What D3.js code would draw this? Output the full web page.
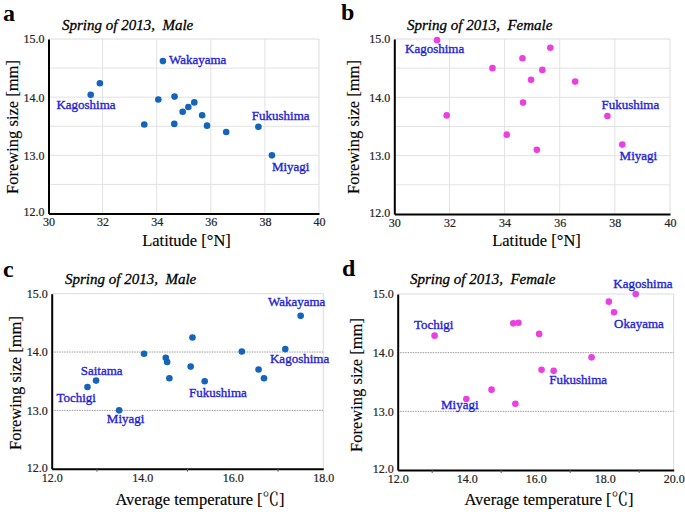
<!DOCTYPE html>
<html>
<head>
<meta charset="utf-8">
<script src="https://cdn.jsdelivr.net/npm/d3@7"></script>
<style>
  html, body { margin: 0; padding: 0; background: #fff; }
  svg { display: block; }
  svg text { font-family: "Liberation Serif", "Times New Roman", serif; }
  svg text tspan.cjk { font-family: "Noto Serif CJK JP", "Noto Sans CJK JP", serif; }
</style>
</head>
<body>
<svg id="chart" width="685" height="512"></svg>
<script>
// ---------------- DATA ----------------
// Panel a: Male, latitude vs forewing size
const aLatitude = [31.56, 31.90, 34.23, 33.54, 34.06, 34.66, 34.65, 34.96, 35.17, 35.39, 35.68, 35.86, 36.57, 37.76, 38.26];
const aSize     = [14.04, 14.24, 14.62, 13.53, 13.96, 14.01, 13.54, 13.75, 13.83, 13.91, 13.69, 13.51, 13.40, 13.49, 13.00];
const aSite     = ["Kagoshima", "", "Wakayama", "", "", "", "", "", "", "", "", "", "", "Fukushima", "Miyagi"];

// Panel b: Female, latitude vs forewing size
const bLatitude = [31.55, 31.90, 33.56, 34.65, 34.67, 34.08, 34.96, 35.37, 35.66, 35.17, 36.56, 37.73, 38.27];
const bSize     = [14.98, 13.69, 14.50, 14.67, 13.91, 13.36, 14.30, 14.47, 14.85, 13.10, 14.27, 13.68, 13.19];
const bSite     = ["Kagoshima", "", "", "", "", "", "", "", "", "", "", "Fukushima", "Miyagi"];

// Panel c: Male, average temperature vs forewing size
const cTemp = [12.79, 12.98, 13.49, 14.04, 14.52, 14.55, 14.60, 15.07, 15.11, 15.38, 16.20, 16.57, 16.69, 17.16, 17.50];
const cSize = [13.40, 13.51, 13.00, 13.97, 13.90, 13.83, 13.55, 13.75, 14.25, 13.50, 14.01, 13.70, 13.55, 14.05, 14.62];
const cSite = ["Tochigi", "Saitama", "Miyagi", "", "", "", "", "", "", "Fukushima", "", "", "", "Kagoshima", "Wakayama"];

// Panel d: Female, average temperature vs forewing size
const dTemp = [13.07, 13.99, 14.72, 15.41, 15.35, 15.50, 16.10, 16.17, 16.52, 17.62, 18.12, 18.27, 18.90];
const dSize = [14.29, 13.21, 13.37, 13.13, 14.50, 14.51, 14.32, 13.71, 13.69, 13.92, 14.87, 14.69, 15.00];
const dSite = ["Tochigi", "Miyagi", "", "", "", "", "", "", "Fukushima", "", "", "Okayama", "Kagoshima"];

const yTickLabels = ["12.0", "13.0", "14.0", "15.0"];
const latTickLabels = ["30", "32", "34", "36", "38", "40"];
const tempTickLabelsC = ["12.0", "14.0", "16.0", "18.0"];
const tempTickLabelsD = ["12.0", "14.0", "16.0", "18.0", "20.0"];

const panelLetters = ["a", "b", "c", "d"];
const panelTitles = ["Spring of 2013,\u00A0\u00A0Male", "Spring of 2013,\u00A0\u00A0Female",
                     "Spring of 2013,\u00A0\u00A0Male", "Spring of 2013,\u00A0\u00A0Female"];
const yAxisTitle = "Forewing size [mm]";
const latAxisTitle = ["Latitude [\u00B0N]", "", ""];
const tempAxisTitle = ["Average temperature [", "\u2103", "]"];

// ---------------- LAYOUT (label offsets, styles) ----------------
const labelOffsets = {
  a: { Kagoshima: [-4.7, 14, "middle"], Wakayama: [6, 3, "start"], Fukushima: [-6.6, -6.7, "start"], Miyagi: [0, 15.4, "start"] },
  b: { Kagoshima: [-32, 12.7, "start"], Fukushima: [-6, -7, "start"], Miyagi: [-2.7, 15.3, "start"] },
  c: { Wakayama: [-32.7, -9.7, "start"], Kagoshima: [-15.3, 13.7, "start"], Saitama: [-15.3, -5.3, "start"],
       Tochigi: [-31, 15, "start"], Miyagi: [-12.3, 12.7, "start"], Fukushima: [-15.7, 15.7, "start"] },
  d: { Kagoshima: [-22.4, -6.3, "start"], Okayama: [0, 15.4, "start"], Tochigi: [-20.7, -6.4, "start"],
       Fukushima: [-4.4, 13.3, "start"], Miyagi: [-25.3, 10.3, "start"] }
};

const MALE = "#1464b9";
const FEMALE = "#ec3fe0";
const LABEL = "#2323d6";

const svg = d3.select("#chart");

function drawPanel(p) {
  const g = svg.append("g");
  const x = d3.scaleLinear().domain(p.xDomain).range([p.x0, p.x1]);
  const y = d3.scaleLinear().domain([12, 15]).range([p.y0, p.y1]);

  // frame (light top/right)
  g.append("line").attr("x1", p.x0).attr("x2", p.x1).attr("y1", p.y1).attr("y2", p.y1)
    .attr("stroke", "#dcdcdc").attr("stroke-width", 1);
  g.append("line").attr("x1", p.x1).attr("x2", p.x1).attr("y1", p.y1).attr("y2", p.y0)
    .attr("stroke", "#dcdcdc").attr("stroke-width", 1);

  if (p.grid === "full") {
    const yg = [12.5, 13, 13.5, 14, 14.5];
    g.selectAll(".hg").data(yg).enter().append("line")
      .attr("x1", p.x0).attr("x2", p.x1).attr("y1", d => y(d)).attr("y2", d => y(d))
      .attr("stroke", "#e2e2e2").attr("stroke-width", 1);
    const xg = p.xTicks.slice(1, -1);
    g.selectAll(".vg").data(xg).enter().append("line")
      .attr("x1", d => x(d)).attr("x2", d => x(d)).attr("y1", p.y1).attr("y2", p.y0)
      .attr("stroke", "#e2e2e2").attr("stroke-width", 1);
  } else {
    const yg = [13, 14];
    g.selectAll(".hg").data(yg).enter().append("line")
      .attr("x1", p.x0).attr("x2", p.x1).attr("y1", d => y(d)).attr("y2", d => y(d))
      .attr("stroke", "#9a9a9a").attr("stroke-width", 1).attr("stroke-dasharray", "1.5,1");
  }

  // axes
  const yAxis = d3.axisLeft(y).tickValues([12, 13, 14, 15])
    .tickFormat((d, i) => yTickLabels[i]).tickSize(0).tickPadding(4);
  const ya = g.append("g").attr("transform", `translate(${p.x0},0)`).call(yAxis);
  ya.select(".domain").attr("stroke", "#000").attr("stroke-width", 2);
  ya.selectAll("text").attr("font-size", 12).attr("fill", "#222")
    .attr("stroke", "#222").attr("stroke-width", 0.2)
    .attr("dy", (d) => d === 12 ? "0.2em" : "0.32em");

  const xAxis = d3.axisBottom(x).tickValues(p.xTicks)
    .tickFormat((d, i) => p.xTickLabels[i]).tickSize(0).tickPadding(p.xPad);
  const xa = g.append("g").attr("transform", `translate(0,${p.y0})`).call(xAxis);
  xa.select(".domain").attr("stroke", "#000").attr("stroke-width", 2);
  xa.selectAll("text").attr("font-size", 12).attr("fill", "#222")
    .attr("stroke", "#222").attr("stroke-width", 0.2);

  if (p.minor) {
    g.selectAll(".mt").data(p.minor).enter().append("line")
      .attr("x1", d => x(d)).attr("x2", d => x(d)).attr("y1", p.y0).attr("y2", p.y0 + 3)
      .attr("stroke", "#555").attr("stroke-width", 1);
  }

  // points
  const pts = p.xs.map((v, i) => ({ x: v, y: p.ys[i], site: p.sites[i] }));
  g.selectAll(".pt").data(pts).enter().append("circle")
    .attr("cx", d => x(d.x)).attr("cy", d => y(d.y)).attr("r", 3.3)
    .attr("fill", p.color);

  // site labels
  g.selectAll(".lab").data(pts.filter(d => d.site)).enter().append("text")
    .attr("x", d => x(d.x) + labelOffsets[p.key][d.site][0])
    .attr("y", d => y(d.y) + labelOffsets[p.key][d.site][1])
    .attr("text-anchor", d => labelOffsets[p.key][d.site][2])
    .attr("font-size", 13).attr("fill", LABEL)
    .attr("stroke", LABEL).attr("stroke-width", 0.35)
    .text(d => d.site);

  // letter
  g.append("text").attr("x", p.letterX).attr("y", p.letterY)
    .attr("font-size", 24).attr("font-weight", "bold").attr("fill", "#000")
    .text(p.letter);
  // title
  g.append("text").attr("x", p.titleX).attr("y", p.titleY)
    .attr("font-size", 15).attr("font-style", "italic").attr("fill", "#000")
    .attr("stroke", "#000").attr("stroke-width", 0.3)
    .text(p.title);
  // y title
  g.append("text")
    .attr("transform", `translate(${p.yTitleX},${p.yTitleY}) rotate(-90)`)
    .attr("text-anchor", "middle").attr("font-size", 16.5).attr("fill", "#000")
    .attr("stroke", "#000").attr("stroke-width", 0.15)
    .text(yAxisTitle);
  // x title
  const xt = g.append("text").attr("x", p.xTitleX).attr("y", p.xTitleY)
    .attr("text-anchor", "middle").attr("font-size", 16.5).attr("fill", "#000")
    .attr("stroke", "#000").attr("stroke-width", 0.15);
  xt.append("tspan").text(p.xTitle[0]);
  if (p.xTitle[1]) xt.append("tspan").attr("class", "cjk").text(p.xTitle[1]);
  if (p.xTitle[2]) xt.append("tspan").text(p.xTitle[2]);
}

drawPanel({
  key: "a", letter: panelLetters[0], title: panelTitles[0], xTitle: latAxisTitle,
  xs: aLatitude, ys: aSize, sites: aSite, color: MALE,
  xDomain: [30, 40], x0: 48.5, x1: 319, y0: 213.5, y1: 39,
  xTicks: [30, 32, 34, 36, 38, 40], xTickLabels: latTickLabels, xPad: 4, grid: "full",
  letterX: 3, letterY: 21, titleX: 62, titleY: 29.5,
  yTitleX: 18, yTitleY: 127, xTitleX: 186.5, xTitleY: 246
});
drawPanel({
  key: "b", letter: panelLetters[1], title: panelTitles[1], xTitle: latAxisTitle,
  xs: bLatitude, ys: bSize, sites: bSite, color: FEMALE,
  xDomain: [30, 40], x0: 394.3, x1: 670, y0: 214, y1: 39,
  xTicks: [30, 32, 34, 36, 38, 40], xTickLabels: latTickLabels, xPad: 4, grid: "full",
  letterX: 341, letterY: 20, titleX: 407, titleY: 29.5,
  yTitleX: 359, yTitleY: 127, xTitleX: 536.5, xTitleY: 246
});
drawPanel({
  key: "c", letter: panelLetters[2], title: panelTitles[2], xTitle: tempAxisTitle,
  xs: cTemp, ys: cSize, sites: cSite, color: MALE,
  xDomain: [12, 18], x0: 51.7, x1: 323.3, y0: 468.7, y1: 293.7,
  xTicks: [12, 14, 16, 18], xTickLabels: tempTickLabelsC, xPad: 5, grid: "dotted",
  minor: [13, 15, 17],
  letterX: 3, letterY: 277, titleX: 65, titleY: 284,
  yTitleX: 21, yTitleY: 383, xTitleX: 200, xTitleY: 505
});
drawPanel({
  key: "d", letter: panelLetters[3], title: panelTitles[3], xTitle: tempAxisTitle,
  xs: dTemp, ys: dSize, sites: dSite, color: FEMALE,
  xDomain: [12, 20], x0: 397.7, x1: 673.7, y0: 470, y1: 294,
  xTicks: [12, 14, 16, 18, 20], xTickLabels: tempTickLabelsD, xPad: 4, grid: "dotted",
  minor: [13, 15, 17, 19],
  letterX: 342, letterY: 276, titleX: 410, titleY: 284,
  yTitleX: 362, yTitleY: 385, xTitleX: 549, xTitleY: 505
});
</script>
</body>
</html>
